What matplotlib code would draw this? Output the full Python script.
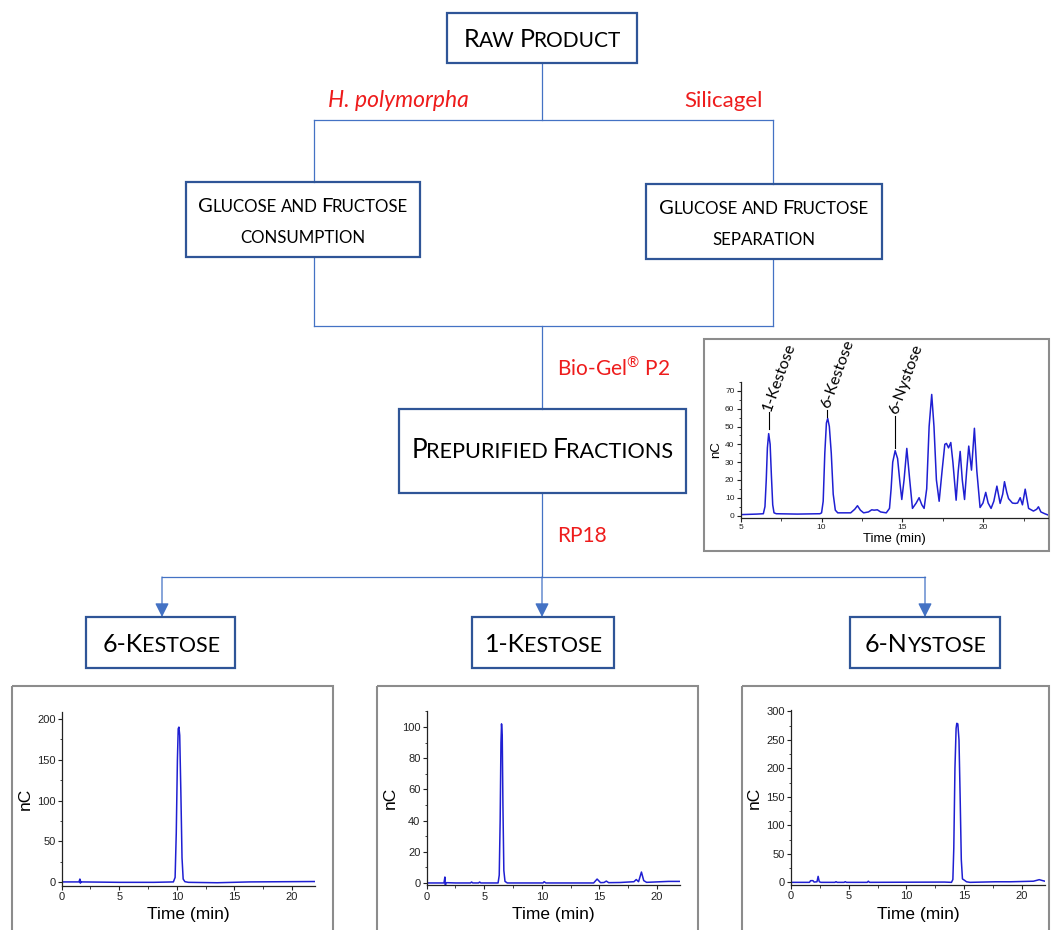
import matplotlib
matplotlib.use('Agg')
import matplotlib.pyplot as plt
from matplotlib.patches import Rectangle
from matplotlib.ticker import MultipleLocator

plt.rcParams['font.family'] = ['Liberation Sans', 'DejaVu Sans']

# ---- chromatogram data (time in min, signal in nC) ----
# mixture (inset)
mix_t = [5.0, 6.0, 6.4, 6.5, 6.58, 6.65, 6.73, 6.82, 6.9, 6.98, 7.06, 7.2, 8.5, 9.9, 10.0,
         10.1, 10.2, 10.3, 10.38, 10.48, 10.6, 10.72, 10.85, 11.0, 11.8, 12.05, 12.22, 12.4,
         12.6, 12.9, 13.1, 13.25, 13.45, 13.65, 14.0, 14.2, 14.3, 14.4, 14.55, 14.7, 14.85,
         14.96, 15.1, 15.27, 15.45, 15.62, 15.85, 16.03, 16.2, 16.34, 16.5, 16.65, 16.81,
         16.95, 17.1, 17.27, 17.45, 17.62, 17.72, 17.85, 17.99, 18.12, 18.32, 18.45, 18.57,
         18.7, 18.84, 18.97, 19.1, 19.27, 19.45, 19.6, 19.8, 19.98, 20.15, 20.3, 20.48, 20.65,
         20.84, 21.04, 21.2, 21.31, 21.45, 21.56, 21.8, 21.97, 22.12, 22.28, 22.42, 22.59,
         22.8, 23.1, 23.3, 23.41, 23.56, 23.8, 24.0]
mix_nc = [0.5, 0.8, 1, 5, 20, 38, 46, 40, 22, 6, 1.5, 1, 0.8, 1, 1.5, 8, 35, 52, 54.5, 50, 35,
          12, 3, 1.5, 1.5, 3.5, 5.5, 3, 1.5, 2, 3.2, 3, 3.2, 2, 1.5, 4, 15, 30, 36.4, 32, 18,
          9, 20, 37.7, 20, 4, 7, 10, 6, 4, 15, 50, 68, 50, 20, 8, 25, 40, 40.5, 38, 41, 30,
          8.6, 25, 36, 20, 9, 25, 39, 25.5, 49, 25, 4.5, 7, 13, 7, 4, 8, 16.5, 6.8, 12, 19,
          13, 9.5, 7, 6.8, 7, 10, 6, 14.8, 4, 2.5, 3.5, 4.9, 2, 1, 0.3]

# peak labels in the inset: name, time, line bottom, line top
peak_names = ['1-Kestose', '6-Kestose', '6-Nystose']
peak_t = [6.73, 10.36, 14.55]
peak_lo = [48.5, 55.5, 38]
peak_hi = [58, 59.5, 56]

# 6-kestose fraction
k6_t = [0, 1.5, 1.58, 1.62, 1.68, 1.75, 5, 8, 9.7, 9.85, 9.95, 10.05, 10.12, 10.18, 10.25,
        10.35, 10.45, 10.55, 10.7, 11, 13.5, 16.3, 22]
k6_nc = [0.5, 0.5, 4, -1, 1, 0.5, 0, 0, 0.5, 6, 60, 150, 188, 190, 180, 110, 30, 4, 0.8, 0,
         -0.5, 0.5, 1]

# 1-kestose fraction
k1_t = [0, 1.5, 1.58, 1.62, 1.7, 2.5, 3.8, 3.9, 4.0, 4.5, 4.6, 4.7, 6.2, 6.3, 6.38, 6.45, 6.5,
        6.56, 6.62, 6.7, 6.8, 7.0, 10.1, 10.2, 10.35, 14.5, 14.8, 15.1, 15.4, 15.6, 15.8, 16.8,
        18.0, 18.2, 18.4, 18.65, 18.85, 19.1, 21, 22]
k1_nc = [0, 0, 3.8, -1.5, 0.2, 0, 0, 0.6, 0, 0, 0.6, 0, 0, 5, 40, 90, 102, 95, 50, 8, 1, 0, 0,
         0.8, 0, 0, 2.5, 0.2, 0.3, 1.2, 0.2, 0.3, 0.8, 2.2, 0.8, 7, 1.5, 0.4, 1, 1]

# 6-nystose fraction
n6_t = [0, 1.6, 1.7, 1.9, 2.0, 2.25, 2.35, 2.45, 2.6, 3.8, 3.9, 4.0, 4.6, 4.7, 4.8, 6.6, 6.7,
        6.8, 13.3, 13.9, 14.02, 14.1, 14.2, 14.3, 14.36, 14.45, 14.55, 14.65, 14.75, 14.85,
        15.0, 15.2, 15.5, 17.7, 19, 21, 21.5, 21.8, 22]
n6_nc = [0, 0, 3, 3, 0.5, 1, 10.5, 1, 0, 0, 1.2, 0, 0, 1.2, 0, 0, 2, 0, 0.5, 0, 5, 60, 200,
         270, 279, 278, 250, 150, 40, 6, 4, 1, 0, 1, 1, 2, 4.7, 3, 2]

# flow chart texts
top_label = 'Raw Product'
mid_labels = [['Glucose and Fructose', 'consumption'], ['Glucose and Fructose', 'separation']]
pre_label = 'Prepurified Fractions'
end_labels = ['6-Kestose', '1-Kestose', '6-Nystose']
step_labels = ['H. polymorpha', 'Silicagel', 'Bio-Gel$^{\\mathregular{®}}$ P2', 'RP18']

BOX = '#2f5597'
LINK = '#4472c4'
RED = '#ee1c1c'
FRAME = '#8c8c8c'
TRACE = '#1f1fd2'
FLOWFONT = 'Lato'

W, H = 1051, 930
fig = plt.figure(figsize=(W / 100, H / 100), dpi=100)
ax0 = fig.add_axes([0, 0, 1, 1])
ax0.set_xlim(0, W)
ax0.set_ylim(H, 0)
ax0.axis('off')
renderer = fig.canvas.get_renderer()


def text_width(s, size, **kw):
    t = ax0.text(0, 0, s, fontsize=size, **kw)
    w = t.get_window_extent(renderer).width
    t.remove()
    return w


def small_caps(xc, yb, s, big, small, color='black'):
    # fake small caps: capitals big, lower case letters as small capitals
    runs = []
    for ch in s:
        if ch == ' ':
            runs.append([' ', small])
            continue
        size = small if ch.islower() else big
        if runs and runs[-1][0] != ' ' and runs[-1][1] == size:
            runs[-1][0] += ch.upper()
        else:
            runs.append([ch.upper(), size])
    widths = []
    for txt, size in runs:
        if txt == ' ':
            widths.append(text_width('x x', size, family=FLOWFONT) - text_width('xx', size, family=FLOWFONT))
        else:
            widths.append(text_width(txt, size, family=FLOWFONT) - 0.05 * size)
    x = xc - sum(widths) / 2
    for (txt, size), w in zip(runs, widths):
        if txt != ' ':
            ax0.text(x, yb, txt, fontsize=size, family=FLOWFONT, color=color,
                     ha='left', va='baseline')
        x += w


def box(x0, y0, x1, y1):
    ax0.add_patch(Rectangle((x0, y0), x1 - x0, y1 - y0, fill=False, ec=BOX, lw=1.6, zorder=3))


def link(xs, ys):
    ax0.plot(xs, ys, color=LINK, lw=0.9, zorder=2)


def arrow(x, y0, y1):
    ax0.annotate('', xy=(x, y1), xytext=(x, y0),
                 arrowprops=dict(arrowstyle='-|>,head_length=0.7,head_width=0.35', color=LINK,
                                 lw=0.9, shrinkA=0, shrinkB=0, mutation_scale=12))


# raw product
box(447, 13, 637, 63)
small_caps(542, 47, top_label, 18, 15)
link([542, 542], [63, 120])
link([314, 773], [120, 120])
link([314, 314], [120, 182])
link([773, 773], [120, 184])

ax0.text(398, 107, step_labels[0], color=RED, fontsize=16.5, family=FLOWFONT, style='italic',
         ha='center', va='baseline')
ax0.text(723, 107, step_labels[1], color=RED, fontsize=16, family=FLOWFONT,
         ha='center', va='baseline')

# middle boxes
box(186, 182, 420, 257)
small_caps(303, 212, mid_labels[0][0], 14.6, 12.2)
small_caps(303, 243, mid_labels[0][1], 14.6, 12.2)
box(646, 184, 882, 259)
small_caps(764, 214, mid_labels[1][0], 14.6, 12.2)
small_caps(764, 245, mid_labels[1][1], 14.6, 12.2)

link([314, 314], [257, 326])
link([773, 773], [259, 326])
link([314, 773], [326, 326])
link([542, 542], [326, 409])
ax0.text(557, 376, step_labels[2], color=RED, fontsize=15, family=FLOWFONT,
         ha='left', va='baseline')

# prepurified
box(399, 409, 686, 493)
small_caps(542, 458, pre_label, 18.8, 15.6)
link([542, 542], [493, 577])
ax0.text(557, 542, step_labels[3], color=RED, fontsize=15, family=FLOWFONT,
         ha='left', va='baseline')
link([162, 925], [577, 577])
for xa in [162, 542, 925]:
    arrow(xa, 577, 617)

end_boxes = [(86, 235), (472, 614), (850, 1000)]
for (xa, xb), lab in zip(end_boxes, end_labels):
    box(xa, 617, xb, 668)
    small_caps((xa + xb) / 2, 652, lab, 18, 15.5)

# chromatogram frames
for fx0, fx1, fy0, fy1 in [(704, 1049, 339, 551), (12, 333, 686, 940),
                           (377, 698, 686, 940), (742, 1049, 686, 940)]:
    ax0.add_patch(Rectangle((fx0, fy0), fx1 - fx0, fy1 - fy0, fill=False, ec=FRAME, lw=1.5))


def add_chrom(px, t, nc, xlim, ylim, xmaj, ymaj, tick_fs, lab_fs, lw, ylpad, xlpad):
    l, r, top, bot = px
    ax = fig.add_axes([l / W, 1 - bot / H, (r - l) / W, (bot - top) / H])
    ax.patch.set_alpha(0)
    ax.plot(t, nc, color=TRACE, lw=lw)
    ax.set_xlim(xlim)
    ax.set_ylim(ylim)
    ax.xaxis.set_major_locator(MultipleLocator(xmaj))
    ax.xaxis.set_minor_locator(MultipleLocator(xmaj / 2))
    ax.yaxis.set_major_locator(MultipleLocator(ymaj))
    ax.yaxis.set_minor_locator(MultipleLocator(ymaj / 2))
    for s in ['top', 'right']:
        ax.spines[s].set_visible(False)
    for s in ['left', 'bottom']:
        ax.spines[s].set_linewidth(0.9)
        ax.spines[s].set_color('#222222')
    ax.tick_params(which='major', direction='out', length=3, width=0.8, labelsize=tick_fs,
                   pad=1.5, colors='#222222')
    ax.tick_params(which='minor', direction='out', length=1.8, width=0.6, colors='#222222')
    ax.set_xlabel('Time (min)', fontsize=lab_fs, labelpad=xlpad)
    ax.set_ylabel('nC', fontsize=lab_fs, labelpad=ylpad)
    return ax


inset = add_chrom((740.7, 1048, 382, 518), mix_t, mix_nc, (5, 24), (-1.4, 75), 5, 10,
                  6, 9.5, 1.1, 2, 1)
for name, pt, lo, hi in zip(peak_names, peak_t, peak_lo, peak_hi):
    inset.plot([pt, pt], [lo, hi], color='black', lw=0.8, clip_on=False)
    inset.text(pt - 0.1, hi + 1, name, fontsize=11.5, family=FLOWFONT, rotation=70,
               rotation_mode='anchor', ha='left', va='center', clip_on=False)

add_chrom((61.7, 315, 711.6, 885.6), k6_t, k6_nc, (0, 22), (-4, 209), 5, 50,
          8, 12.5, 1.1, 3, 4)
add_chrom((426.7, 680, 711.4, 885.3), k1_t, k1_nc, (0, 22), (-1.5, 110), 5, 20,
          8, 12.5, 1.1, 3, 4)
add_chrom((791, 1045, 710.2, 885.2), n6_t, n6_nc, (0, 22), (-5, 302), 5, 50,
          8, 12.5, 1.1, 3, 4)

fig.savefig('out.png', dpi=100)
